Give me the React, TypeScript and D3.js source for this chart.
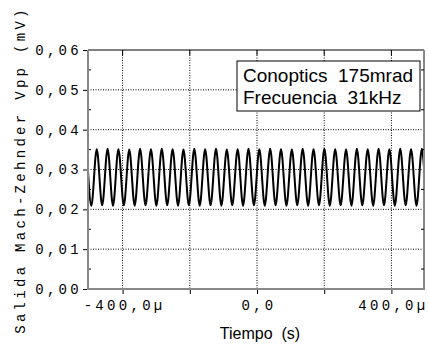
import React, { useEffect, useRef } from 'react';
import * as d3 from 'd3';

// time of each turning point of the trace (microseconds)
const timeUs = [
  -503, -493.1, -477.0, -460.8, -444.7, -428.6, -412.5, -396.3, -380.2, -364.1, -348.0,
  -331.8, -315.7, -299.5, -283.4, -267.3, -251.2, -235.0, -218.9, -202.8, -186.7,
  -170.5, -154.4, -138.2, -122.1, -106.0, -89.9, -73.7, -57.6, -41.5, -25.4,
  -9.2, 6.9, 23.1, 39.2, 55.3, 71.4, 87.6, 103.7, 119.8, 135.9,
  152.1, 168.2, 184.4, 200.5, 216.6, 232.7, 248.9, 265.0, 281.1, 297.2,
  313.4, 329.5, 345.7, 361.8, 377.9, 394.0, 410.2, 426.3, 442.4, 458.5,
  474.7, 490.8, 497,
];

// output voltage at those points (trough, peak, trough, peak ...)
const vpp = [
  0.0295, 0.0209, 0.0351, 0.0210, 0.0352, 0.0209, 0.0351, 0.0210, 0.0350, 0.0209, 0.0352,
  0.0210, 0.0351, 0.0209, 0.0352, 0.0210, 0.0351, 0.0209, 0.0350, 0.0210, 0.0352,
  0.0209, 0.0351, 0.0210, 0.0352, 0.0209, 0.0350, 0.0210, 0.0351, 0.0209, 0.0352,
  0.0210, 0.0351, 0.0209, 0.0352, 0.0210, 0.0351, 0.0209, 0.0350, 0.0210, 0.0352,
  0.0209, 0.0351, 0.0210, 0.0352, 0.0209, 0.0351, 0.0210, 0.0350, 0.0209, 0.0352,
  0.0210, 0.0351, 0.0209, 0.0352, 0.0210, 0.0351, 0.0209, 0.0352, 0.0210, 0.0351,
  0.0209, 0.0352, 0.0305,
];

const yTicks = [0, 0.01, 0.02, 0.03, 0.04, 0.05, 0.06];
const yMinorTicks = [0.005, 0.015, 0.025, 0.035, 0.045, 0.055];
const xTicks = [-400, -200, 0, 200, 400];
const xLabelTicks = [-400, 0, 400];
const xLabels = ['-400,0µ', '0,0', '400,0µ'];
const legendLines = ['Conoptics  175mrad', 'Frecuencia  31kHz'];

const W = 429;
const H = 350;
const mono = '"Liberation Mono", "Courier New", monospace';
const sans = '"Liberation Sans", Arial, sans-serif';

const App = () => {
  const svgRef = useRef<SVGSVGElement>(null);

  useEffect(() => {
    const margin = { top: 50, right: 5, bottom: 61, left: 88 };
    const width = W - margin.left - margin.right;
    const height = H - margin.top - margin.bottom;

    const root = d3.select(svgRef.current);
    root.selectAll('*').remove();

    const svg = root.append('g')
      .attr('transform', `translate(${margin.left},${margin.top})`);

    const x = d3.scaleLinear().domain([-503, 497]).range([0, width]);
    const y = d3.scaleLinear().domain([0, 0.06]).range([height, 0]);

    root.append('defs').append('clipPath').attr('id', 'plot-clip')
      .append('rect').attr('width', width).attr('height', height);

    // dotted grid
    svg.append('g').selectAll('line').data(xTicks).join('line')
      .attr('x1', d => x(d)).attr('x2', d => x(d))
      .attr('y1', 0).attr('y2', height)
      .attr('stroke', '#000').attr('stroke-width', 1)
      .attr('stroke-dasharray', '1,1.5');
    svg.append('g').selectAll('line').data(yTicks.slice(1, -1)).join('line')
      .attr('x1', 0).attr('x2', width)
      .attr('y1', d => y(d)).attr('y2', d => y(d))
      .attr('stroke', '#000').attr('stroke-width', 1)
      .attr('stroke-dasharray', '1,1.5');

    // trace: monotone curve keeps the turning points flat like the scope trace
    const line = d3.line<number>()
      .x((_, i) => x(timeUs[i]))
      .y(d => y(d))
      .curve(d3.curveMonotoneX);

    svg.append('path')
      .datum(vpp)
      .attr('clip-path', 'url(#plot-clip)')
      .attr('fill', 'none')
      .attr('stroke', '#000')
      .attr('stroke-width', 2)
      .attr('stroke-linejoin', 'round')
      .attr('d', line);

    // legend box
    const lg = svg.append('g').attr('transform', `translate(${237 - margin.left},${61 - margin.top})`);
    lg.append('rect')
      .attr('width', 183).attr('height', 50)
      .attr('fill', '#fff').attr('stroke', '#000').attr('stroke-width', 1);
    lg.selectAll('text').data(legendLines).join('text')
      .attr('x', 6)
      .attr('y', (_, i) => 21 + i * 22)
      .attr('font-family', sans)
      .attr('font-size', 19)
      .style('white-space', 'pre')
      .text(d => d);

    // frame
    svg.append('line').attr('x1', 0).attr('x2', width).attr('y1', 0).attr('y2', 0)
      .attr('stroke', '#000').attr('stroke-width', 1);
    svg.append('line').attr('x1', width).attr('x2', width).attr('y1', 0).attr('y2', height)
      .attr('stroke', '#888').attr('stroke-width', 2);

    // top and right inner ticks
    svg.append('g').selectAll('line').data(xTicks).join('line')
      .attr('x1', d => x(d)).attr('x2', d => x(d)).attr('y1', 0).attr('y2', 5)
      .attr('stroke', '#000');
    svg.append('g').selectAll('line').data(yMinorTicks).join('line')
      .attr('x1', width - 3).attr('x2', width).attr('y1', d => y(d)).attr('y2', d => y(d))
      .attr('stroke', '#000');

    // left axis
    const yAxis = svg.append('g')
      .call(d3.axisLeft(y).tickValues(yTicks).tickSize(5).tickPadding(4)
        .tickFormat(d => d3.format('.2f')(d as number).replace('.', ',')));
    yAxis.select('.domain').remove();
    yAxis.selectAll('.tick text')
      .attr('font-family', mono).attr('font-size', 14)
      .attr('letter-spacing', 3.3).attr('dx', 3).attr('fill', '#000');
    svg.append('g').selectAll('line').data(yMinorTicks).join('line')
      .attr('x1', 0).attr('x2', 3).attr('y1', d => y(d)).attr('y2', d => y(d))
      .attr('stroke', '#000');
    svg.append('line').attr('x1', 0).attr('x2', 0).attr('y1', 0).attr('y2', height + 1)
      .attr('stroke', '#888').attr('stroke-width', 2);

    // bottom axis
    const xAxis = svg.append('g')
      .attr('transform', `translate(0,${height})`)
      .call(d3.axisBottom(x).tickValues(xTicks).tickSize(5).tickPadding(6)
        .tickFormat(d => {
          const k = xLabelTicks.indexOf(d as number);
          return k >= 0 ? xLabels[k] : '';
        }));
    xAxis.select('.domain').remove();
    xAxis.selectAll('.tick text')
      .attr('font-family', mono).attr('font-size', 14)
      .attr('letter-spacing', 3.3).attr('dx', 1.5).attr('fill', '#000');
    svg.append('line').attr('x1', -1).attr('x2', width + 1).attr('y1', height).attr('y2', height)
      .attr('stroke', '#888').attr('stroke-width', 2);

    // axis titles
    svg.append('text')
      .attr('text-anchor', 'middle')
      .attr('x', 260 - margin.left)
      .attr('y', 339 - margin.top)
      .attr('font-family', sans)
      .attr('font-size', 16)
      .style('white-space', 'pre')
      .text('Tiempo  (s)');

    svg.append('text')
      .attr('text-anchor', 'middle')
      .attr('transform', `translate(${25 - margin.left},${170 - margin.top}) rotate(-90)`)
      .attr('font-family', mono)
      .attr('font-size', 14)
      .attr('letter-spacing', 3.3)
      .text('Salida Mach-Zehnder Vpp (mV)');
  }, []);

  return (
    <svg
      ref={svgRef}
      width={W}
      height={H}
      style={{ position: 'absolute', left: 0, top: 0, background: '#fff' }}
    />
  );
};

export default App;
